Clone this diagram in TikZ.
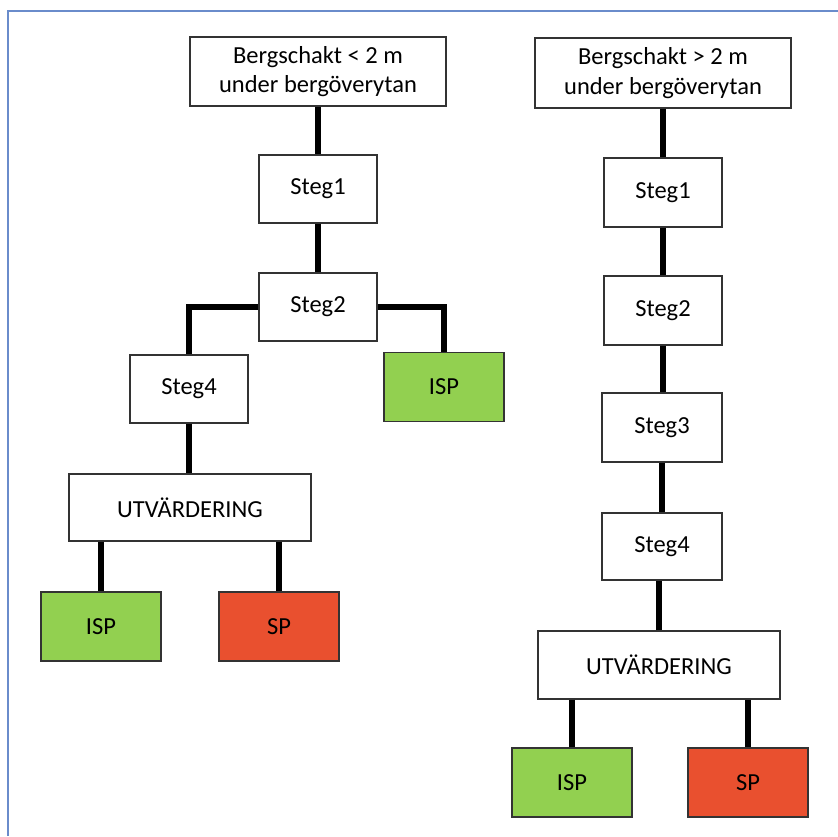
\documentclass[tikz,border=0pt]{standalone}
\usepackage{fontspec}
\setmainfont{Carlito}
\usepackage{xcolor}
\usepackage{tikz}
\usetikzlibrary{positioning}

\definecolor{ispgreen}{HTML}{92D050}
\definecolor{spred}{HTML}{E9502F}
\definecolor{framblue}{HTML}{6A8CCB}

\begin{document}
\begin{tikzpicture}[x=1pt, y=-1pt,
    box/.style={draw=black!80, line width=1.3pt, fill=white, inner sep=0pt,
        minimum width=118pt, minimum height=68pt, align=center,
        font=\fontsize{24.5}{29.5}\selectfont},
    wide/.style={box, minimum width=242pt},
    isp/.style={box, fill=ispgreen, minimum width=120pt, minimum height=69pt},
    sp/.style={box, fill=spred, minimum width=120pt, minimum height=69pt},
    conn/.style={line width=5.5pt}]
    \useasboundingbox (0,0) rectangle (838,836);
    \draw[framblue, line width=1.5pt] (8,836) -- (8,11) -- (838,11);

    % left tree
    \node[box, minimum width=256pt, minimum height=69pt] (topL) at (318,71.5) {Bergschakt < 2 m\\under bergöverytan};
    \node[box] (s1L) at (318,189) {Steg1};
    \node[box] (s2L) at (318,307) {Steg2};
    \node[box] (s4L) at (189,389) {Steg4};
    \node[isp] (ispA) at (444,387) {ISP};
    \node[wide, minimum height=67pt] (utvL) at (190,507.5) {UTVÄRDERING};
    \node[isp] (ispL) at (101,626.5) {ISP};
    \node[sp] (spL) at (279,626.5) {SP};

    \draw[conn] (topL) -- (s1L);
    \draw[conn] (s1L) -- (s2L);
    \draw[conn] (s2L.west) -| (s4L.north);
    \draw[conn] (s2L.east) -| (ispA.north);
    \draw[conn] (s4L.south) -- (s4L.south |- utvL.north);
    \draw[conn] (utvL.south -| ispL) -- (ispL.north);
    \draw[conn] (utvL.south -| spL) -- (spL.north);

    % right tree
    \node[box, minimum width=256pt, minimum height=70pt] (topR) at (663,73) {Bergschakt > 2 m\\under bergöverytan};
    \node[box, minimum height=69pt] (s1R) at (663,192.5) {Steg1};
    \node[box, minimum height=69pt] (s2R) at (663,310.5) {Steg2};
    \node[box, minimum width=120pt, minimum height=69pt] (s3R) at (662,427.5) {Steg3};
    \node[box, minimum width=120pt, minimum height=67pt] (s4R) at (662,546.5) {Steg4};
    \node[wide] (utvR) at (659,665) {UTVÄRDERING};
    \node[isp] (ispR) at (572,782.5) {ISP};
    \node[sp] (spR) at (748,782.5) {SP};

    \draw[conn] (topR) -- (s1R);
    \draw[conn] (s1R) -- (s2R);
    \draw[conn] (s2R.south) -- (s2R.south |- s3R.north);
    \draw[conn] (s3R) -- (s4R);
    \draw[conn] (utvR.north) -- (utvR.north |- s4R.south);
    \draw[conn] (utvR.south -| ispR) -- (ispR.north);
    \draw[conn] (utvR.south -| spR) -- (spR.north);
\end{tikzpicture}
\end{document}
